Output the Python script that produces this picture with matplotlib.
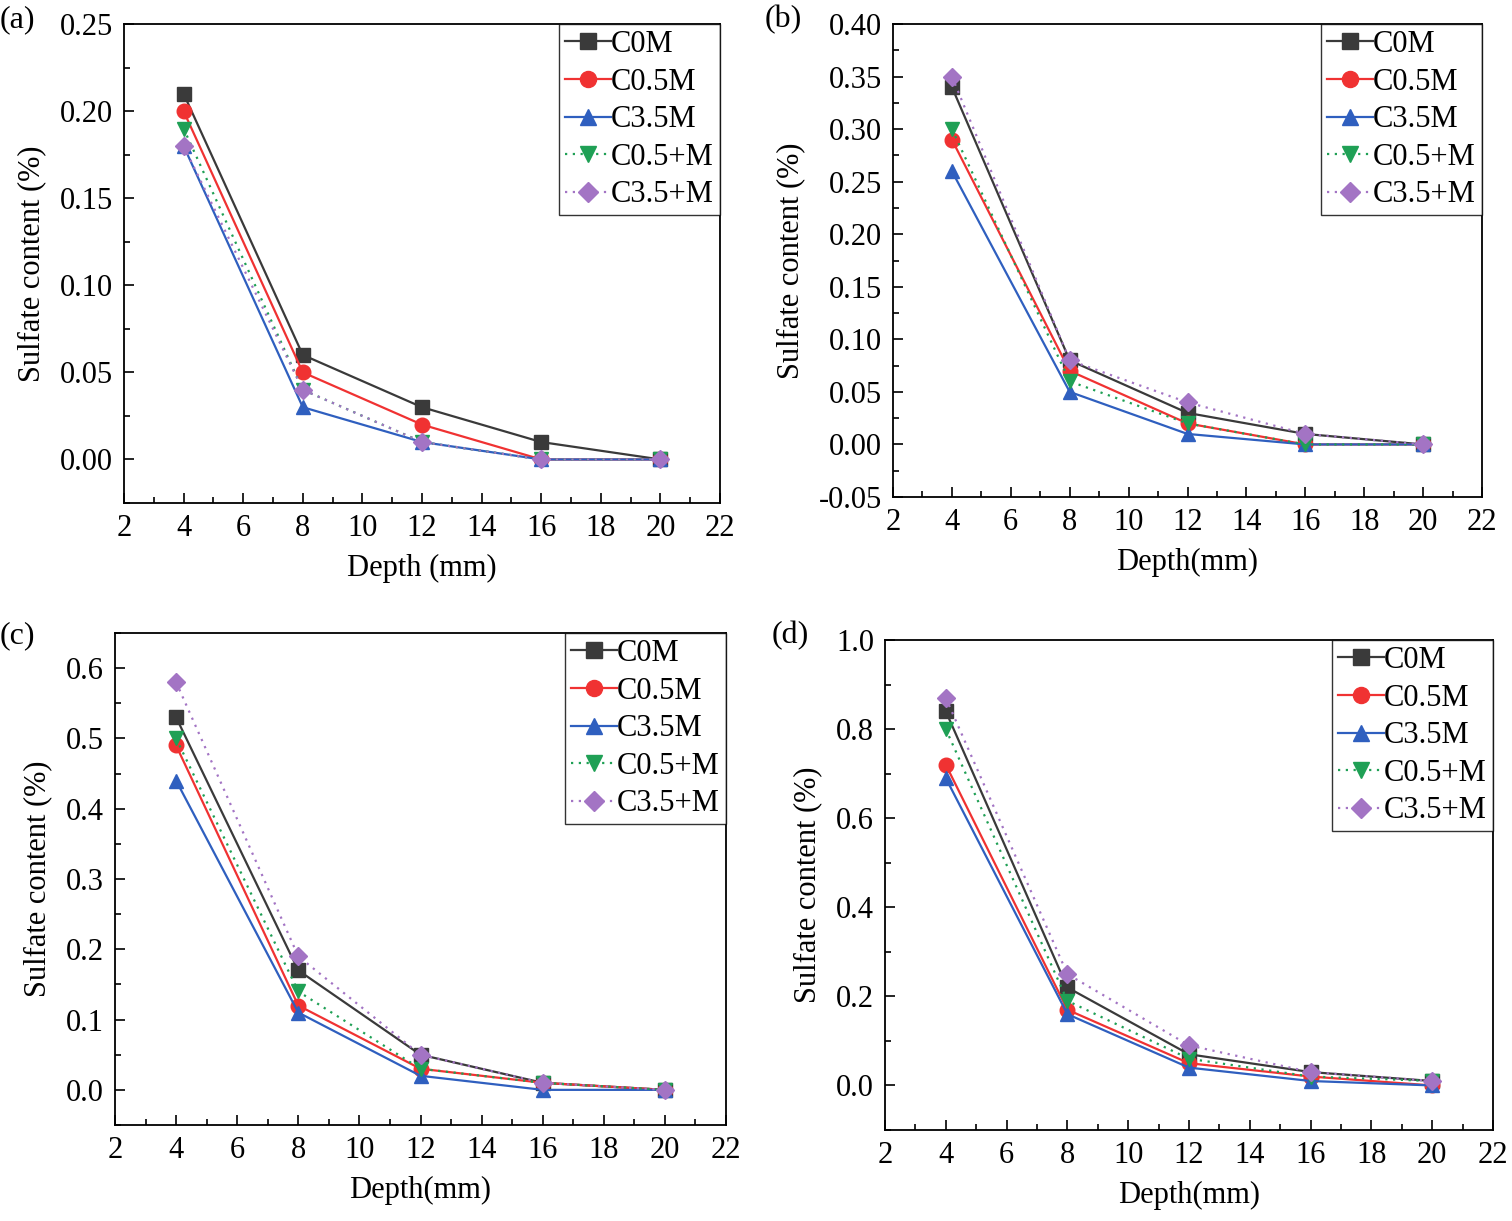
import numpy as np
import matplotlib
matplotlib.use("Agg")
import matplotlib.pyplot as plt
from matplotlib.ticker import MultipleLocator, FormatStrFormatter

plt.rcParams['font.family'] = ['Liberation Serif', 'DejaVu Serif']
plt.rcParams['mathtext.fontset'] = 'stix'

depth = [4, 8, 12, 16, 20]
names = ["C0M", "C0.5M", "C3.5M", "C0.5+M", "C3.5+M"]

a_C0M = [0.21, 0.06, 0.03, 0.01, 0.00]
a_C05M = [0.20, 0.05, 0.02, 0.00, 0.00]
a_C35M = [0.18, 0.03, 0.01, 0.00, 0.00]
a_C05pM = [0.19, 0.04, 0.01, 0.00, 0.00]
a_C35pM = [0.18, 0.04, 0.01, 0.00, 0.00]

b_C0M = [0.34, 0.08, 0.03, 0.01, 0.00]
b_C05M = [0.29, 0.07, 0.02, 0.00, 0.00]
b_C35M = [0.26, 0.05, 0.01, 0.00, 0.00]
b_C05pM = [0.30, 0.06, 0.02, 0.00, 0.00]
b_C35pM = [0.35, 0.08, 0.04, 0.01, 0.00]

c_C0M = [0.53, 0.17, 0.05, 0.01, 0.00]
c_C05M = [0.49, 0.12, 0.03, 0.01, 0.00]
c_C35M = [0.44, 0.11, 0.02, 0.00, 0.00]
c_C05pM = [0.50, 0.14, 0.03, 0.01, 0.00]
c_C35pM = [0.58, 0.19, 0.05, 0.01, 0.00]

d_C0M = [0.84, 0.22, 0.07, 0.03, 0.01]
d_C05M = [0.72, 0.17, 0.05, 0.02, 0.00]
d_C35M = [0.69, 0.16, 0.04, 0.01, 0.00]
d_C05pM = [0.80, 0.19, 0.06, 0.02, 0.01]
d_C35pM = [0.87, 0.25, 0.09, 0.03, 0.01]

colors = ["#3a3a3a", "#f03232", "#2f5fbf", "#1fa055", "#a374c4"]
markers = ["s", "o", "^", "v", "D"]
styles = ["-", "-", "-", (0, (1, 2.5)), (0, (1, 2.5))]

W, H = 1512, 1221
fig = plt.figure(figsize=(W / 100, H / 100), dpi=100)


def make_ax(box, series, ylim, ymaj, ymin, fmt, xlabel, tag, tagpos):
    l, t, r, b = box
    ax = fig.add_axes([l / W, 1 - b / H, (r - l) / W, (b - t) / H])
    for i in range(5):
        ms = 9.5 if markers[i] == "D" else 10.5
        ax.plot(depth, series[i], linestyle=styles[i], color=colors[i],
                marker=markers[i], markersize=ms, lw=1.6, label=names[i])
    ax.set_xlim(2, 22)
    ax.set_ylim(*ylim)
    ax.xaxis.set_major_locator(MultipleLocator(2))
    ax.xaxis.set_minor_locator(MultipleLocator(1))
    ax.yaxis.set_major_locator(MultipleLocator(ymaj))
    ax.yaxis.set_minor_locator(MultipleLocator(ymin))
    ax.yaxis.set_major_formatter(FormatStrFormatter(fmt))
    ax.tick_params(which="both", direction="in", labelsize=22, width=1.2)
    ax.tick_params(which="major", length=7, pad=8)
    ax.tick_params(which="minor", length=4)
    for s in ax.spines.values():
        s.set_linewidth(1.3)
    ax.set_xlabel(xlabel, fontsize=22, labelpad=8)
    ax.set_ylabel("Sulfate content (%)", fontsize=22, labelpad=10)
    leg = ax.legend(loc="upper right", fontsize=22, frameon=True, fancybox=False,
                    edgecolor="black", borderpad=0.2, labelspacing=0.28,
                    handlelength=1.5, handletextpad=0.0, borderaxespad=0.0,
                    markerscale=1.1)
    leg.get_frame().set_linewidth(1.0)
    fig.text(tagpos[0] / W, 1 - tagpos[1] / H, tag, fontsize=23, va="center", ha="left")
    return ax


make_ax((124, 24, 720, 503), [a_C0M, a_C05M, a_C35M, a_C05pM, a_C35pM],
        (-0.025, 0.25), 0.05, 0.025, "%.2f", "Depth (mm)", "(a)", (0, 20))
make_ax((893, 24, 1482, 497), [b_C0M, b_C05M, b_C35M, b_C05pM, b_C35pM],
        (-0.05, 0.40), 0.05, 0.025, "%.2f", "Depth(mm)", "(b)", (765, 20))
make_ax((115, 633, 726, 1125), [c_C0M, c_C05M, c_C35M, c_C05pM, c_C35pM],
        (-0.05, 0.65), 0.1, 0.05, "%.1f", "Depth(mm)", "(c)", (0, 636))
make_ax((885, 640, 1493, 1130), [d_C0M, d_C05M, d_C35M, d_C05pM, d_C35pM],
        (-0.1, 1.0), 0.2, 0.1, "%.1f", "Depth(mm)", "(d)", (772, 636))

fig.savefig("out.png", dpi=100)
